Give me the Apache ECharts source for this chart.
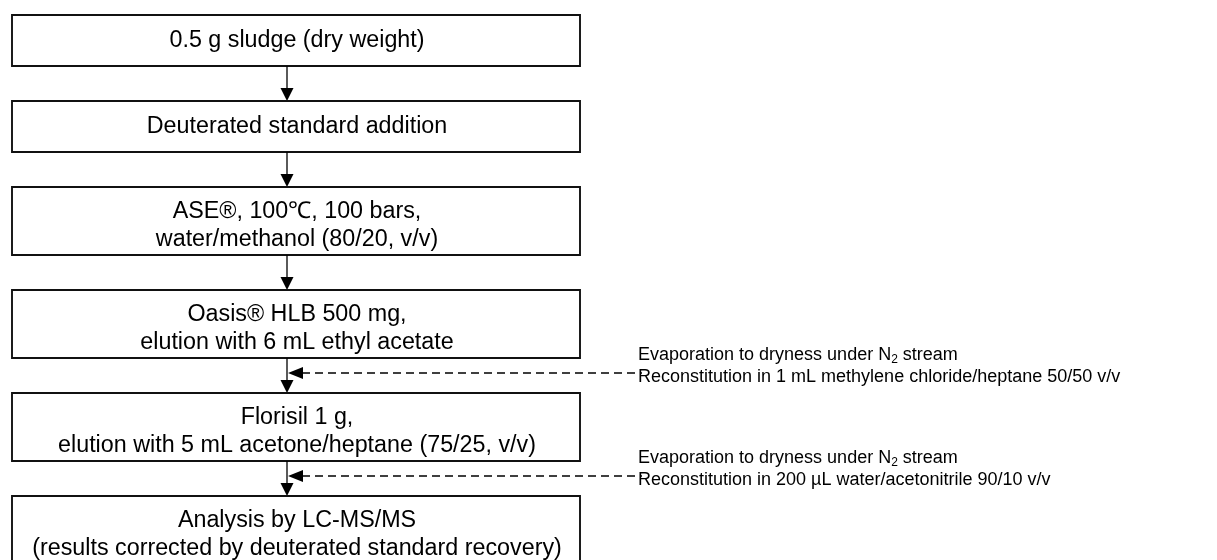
<!DOCTYPE html>
<html><head><meta charset="utf-8">
<script src="https://cdn.jsdelivr.net/npm/echarts@6/dist/echarts.min.js"></script>
<style>html,body{margin:0;padding:0;background:#fff}#c{width:1217px;height:560px}</style>
</head><body><div id="c"></div>
<script>
// ---- content ----
const steps = [
  '0.5 g sludge (dry weight)',
  'Deuterated standard addition',
  'ASE®, 100℃, 100 bars,\nwater/methanol (80/20, v/v)',
  'Oasis® HLB 500 mg,\nelution with 6 mL ethyl acetate',
  'Florisil 1 g,\nelution with 5 mL acetone/heptane (75/25, v/v)',
  'Analysis by LC-MS/MS\n(results corrected by deuterated standard recovery)'
];
const noteAfterStep = [3, 4];
const noteLine1 = [
  'Evaporation to dryness under N{sub|2} stream',
  'Evaporation to dryness under N{sub|2} stream'
];
const noteLine2 = [
  'Reconstitution in 1 mL methylene chloride/heptane 50/50 v/v',
  'Reconstitution in 200 µL water/acetonitrile 90/10 v/v'
];

// ---- layout / style ----
const L = {
  boxLeft: 12, boxRight: 580, top: 15, h1: 51, h2: 68, gap: 35,
  arrowX: 287, noteTextX: 638, dashOffset: 15,
  fontBox: 23.3, lhBox: 28, twoLineCenter: 39, fontNote: 18, lhNote: 22,
  font: '"Liberation Sans", Arial, Helvetica, sans-serif'
};
const tops = [], heights = [], nLines = [];
(function () {
  let y = L.top;
  steps.forEach(s => {
    const n = s.split('\n').length;
    const h = n > 1 ? L.h2 : L.h1;
    tops.push(y); heights.push(h); nLines.push(n); y += h + L.gap;
  });
})();

const chart = echarts.init(document.getElementById('c'), null, { renderer: 'canvas' });

function stepItem(params, api) {
  const i = params.dataIndex;
  const p0 = api.coord([L.boxLeft, tops[i]]);
  const p1 = api.coord([L.boxRight, tops[i] + heights[i]]);
  const cy = nLines[i] > 1 ? api.coord([0, tops[i] + L.twoLineCenter])[1] : (p0[1] + p1[1]) / 2 + 0.5;
  const children = [
    { type: 'rect', shape: { x: p0[0], y: p0[1], width: p1[0] - p0[0], height: p1[1] - p0[1] },
      style: { fill: '#fff', stroke: '#111', lineWidth: 1.9 } },
    { type: 'text', z2: 5, style: {
        text: steps[i], x: (p0[0] + p1[0]) / 2 + 1, y: cy,
        align: 'center', verticalAlign: 'middle', fill: '#000',
        fontSize: L.fontBox, fontFamily: L.font, lineHeight: L.lhBox } }
  ];
  if (i < steps.length - 1) {
    const a = api.coord([L.arrowX, tops[i] + heights[i]]);
    const b = api.coord([L.arrowX, tops[i + 1]]);
    children.push({ type: 'line', shape: { x1: a[0], y1: a[1], x2: b[0], y2: b[1] - 8 },
      style: { stroke: '#000', lineWidth: 1.3 } });
    children.push({ type: 'polygon', shape: { points: [[b[0] - 6.5, b[1] - 13], [b[0] + 6.5, b[1] - 13], [b[0], b[1]]] },
      style: { fill: '#000' } });
  }
  return { type: 'group', children };
}

function noteItem(params, api) {
  const k = params.dataIndex;
  const s = noteAfterStep[k];
  const yv = tops[s] + heights[s] + L.dashOffset;
  const tip = api.coord([L.arrowX + 1, yv]);
  const end = api.coord([L.noteTextX + 4, yv]);
  const rich = { sub: { fontSize: 12, lineHeight: 12, verticalAlign: 'bottom', fontFamily: L.font, fill: '#000' } };
  return { type: 'group', children: [
    { type: 'line', shape: { x1: tip[0] + 14, y1: tip[1], x2: end[0], y2: end[1] },
      style: { stroke: '#000', lineWidth: 1.3, lineDash: [8, 5] } },
    { type: 'polygon', shape: { points: [[tip[0], tip[1]], [tip[0] + 15, tip[1] - 6], [tip[0] + 15, tip[1] + 6]] },
      style: { fill: '#000' } },
    { type: 'text', style: { text: noteLine1[k], x: end[0] - 4, y: tip[1] - 18,
        align: 'left', verticalAlign: 'middle', fill: '#000', fontSize: L.fontNote,
        fontFamily: L.font, lineHeight: L.lhNote, rich } },
    { type: 'text', style: { text: noteLine2[k], x: end[0] - 4, y: tip[1] + 4,
        align: 'left', verticalAlign: 'middle', fill: '#000', fontSize: L.fontNote,
        fontFamily: L.font, lineHeight: L.lhNote } }
  ] };
}

chart.setOption({
  animation: false,
  backgroundColor: '#fff',
  grid: { left: 0, right: 0, top: 0, bottom: 0 },
  xAxis: { type: 'value', min: 0, max: 1217, show: false },
  yAxis: { type: 'value', min: 0, max: 560, inverse: true, show: false },
  series: [
    { type: 'custom', coordinateSystem: 'cartesian2d', renderItem: stepItem,
      data: steps.map((s, i) => [i, i]), silent: true },
    { type: 'custom', coordinateSystem: 'cartesian2d', renderItem: noteItem,
      data: noteAfterStep.map((s, i) => [i, s]), silent: true }
  ]
});
</script></body></html>
